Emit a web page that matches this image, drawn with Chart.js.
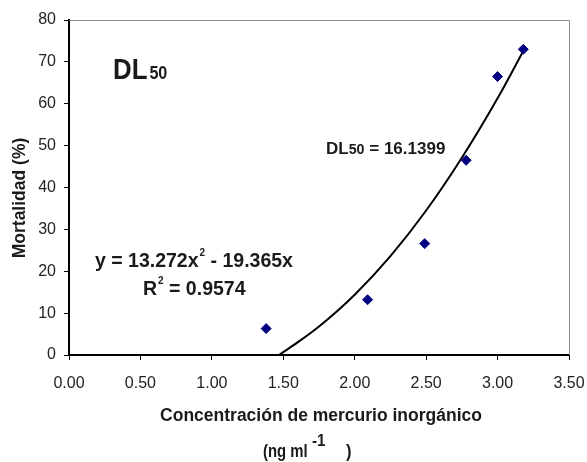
<!DOCTYPE html>
<html>
<head>
<meta charset="utf-8">
<script src="https://cdn.jsdelivr.net/npm/chart.js@4"></script>
<style>
  html, body { margin: 0; padding: 0; background: #fff; }
  #wrap { width: 587px; height: 462px; }
</style>
</head>
<body>
<div id="wrap"><canvas id="chart"></canvas></div>
<script>
// observed mortality
const concentration = [1.38, 2.09, 2.49, 2.78, 3.0, 3.18];
const mortality = [6.3, 13.2, 26.6, 46.5, 66.5, 73.0];

// trend line
const trendX = [1.47, 1.6, 1.75, 2.0, 2.25, 2.5, 2.75, 3.0, 3.18];
const trendY = [0, 3.0, 6.8, 14.4, 23.6, 34.5, 47.1, 61.3, 72.6];

const xTicks = [0, 0.5, 1.0, 1.5, 2.0, 2.5, 3.0, 3.5];
const yTicks = [0, 10, 20, 30, 40, 50, 60, 70, 80];

const FONT = "'Liberation Sans', Arial, sans-serif";
const textColor = "#1a1a1a";

// draw text squeezed horizontally, returns drawn width
function squeezed(ctx, text, x, y, sx) {
  ctx.save();
  ctx.translate(x, y);
  ctx.scale(sx, 1);
  ctx.fillText(text, 0, 0);
  const w = ctx.measureText(text).width * sx;
  ctx.restore();
  return w;
}

const annotations = {
  id: "annotations",
  beforeDatasetsDraw(chart) {
    const { ctx, chartArea } = chart;
    ctx.save();
    // grey plot frame on top / right
    ctx.strokeStyle = "#8c8c8c";
    ctx.lineWidth = 1;
    ctx.beginPath();
    ctx.moveTo(chartArea.left, chartArea.top + 0.5);
    ctx.lineTo(chartArea.right + 0.5, chartArea.top + 0.5);
    ctx.lineTo(chartArea.right + 0.5, chartArea.bottom);
    ctx.stroke();
    ctx.restore();
  },
  afterDraw(chart) {
    const { ctx } = chart;
    ctx.save();
    ctx.fillStyle = textColor;
    ctx.textBaseline = "alphabetic";
    ctx.textAlign = "left";

    // DL50 label
    ctx.font = "bold 30px " + FONT;
    let w = squeezed(ctx, "DL", 113, 79, 0.86);
    ctx.font = "bold 19px " + FONT;
    squeezed(ctx, "50", 113 + w + 2, 79, 0.85);

    // DL50 value
    ctx.font = "bold 17px " + FONT;
    let x = 326;
    x += squeezed(ctx, "DL", x, 154, 1);
    ctx.font = "bold 15px " + FONT;
    x += squeezed(ctx, "50", x, 154, 0.95);
    ctx.font = "bold 17px " + FONT;
    squeezed(ctx, " = 16.1399", x, 154, 1);

    // equation
    ctx.font = "bold 19.5px " + FONT;
    x = 95;
    x += squeezed(ctx, "y = 13.272x", x, 267, 1);
    ctx.font = "bold 10px " + FONT;
    x += squeezed(ctx, "2", x + 1, 256, 1) + 1;
    ctx.font = "bold 19.5px " + FONT;
    squeezed(ctx, " - 19.365x", x, 267, 1);

    x = 143;
    x += squeezed(ctx, "R", x, 295, 1);
    ctx.font = "bold 10px " + FONT;
    x += squeezed(ctx, "2", x + 1, 284, 1) + 1;
    ctx.font = "bold 19.5px " + FONT;
    squeezed(ctx, " = 0.9574", x, 295, 1);

    // axis titles
    ctx.textAlign = "center";
    ctx.font = "bold 17.5px " + FONT;
    ctx.fillText("Concentración de mercurio inorgánico", 321, 421);

    ctx.textAlign = "left";
    squeezed(ctx, "(ng ml", 263, 457, 0.85);
    ctx.font = "bold 16px " + FONT;
    squeezed(ctx, "-1", 312, 446, 0.95);
    ctx.font = "bold 17.5px " + FONT;
    squeezed(ctx, ")", 346, 457, 0.95);

    ctx.translate(25, 198);
    ctx.rotate(-Math.PI / 2);
    ctx.textAlign = "center";
    ctx.fillText("Mortalidad (%)", 0, 0);
    ctx.restore();
  }
};

new Chart(document.getElementById("chart"), {
  type: "scatter",
  data: {
    datasets: [
      {
        label: "Mortalidad",
        data: concentration.map((c, i) => ({ x: c, y: mortality[i] })),
        pointStyle: "rectRot",
        pointRadius: 5,
        backgroundColor: "#000080",
        borderColor: "#000080",
        order: 1
      },
      {
        label: "Tendencia",
        data: trendX.map((c, i) => ({ x: c, y: trendY[i] })),
        showLine: true,
        pointRadius: 0,
        borderColor: "#000",
        borderWidth: 2,
        cubicInterpolationMode: "monotone",
        order: 2
      }
    ]
  },
  options: {
    responsive: true,
    maintainAspectRatio: false,
    animation: false,
    layout: { padding: { left: 0, top: 20, right: 18, bottom: 0 } },
    plugins: {
      legend: { display: false },
      tooltip: { enabled: false }
    },
    scales: {
      x: {
        type: "linear",
        min: 0,
        max: 3.5,
        afterFit: (scale) => {
          scale.height = 107;
          scale.paddingLeft = 0;
          scale.paddingRight = 0;
        },
        afterBuildTicks: (scale) => { scale.ticks = xTicks.map(v => ({ value: v })); },
        grid: { drawOnChartArea: false, drawTicks: true, tickLength: 5, color: "#000" },
        border: { display: true, color: "#000", width: 2 },
        ticks: {
          color: "#222",
          padding: 14,
          maxRotation: 0,
          font: { family: FONT, size: 16 },
          callback: (v) => v.toFixed(2)
        }
      },
      y: {
        min: 0,
        max: 80,
        afterFit: (scale) => {
          scale.width = 69;
          scale.paddingTop = 0;
          scale.paddingBottom = 0;
        },
        afterBuildTicks: (scale) => { scale.ticks = yTicks.map(v => ({ value: v })); },
        grid: { drawOnChartArea: false, drawTicks: true, tickLength: 5, color: "#000" },
        border: { display: true, color: "#000", width: 2 },
        ticks: {
          color: "#222",
          padding: 8,
          font: { family: FONT, size: 16 }
        }
      }
    }
  },
  plugins: [annotations]
});
</script>
</body>
</html>
